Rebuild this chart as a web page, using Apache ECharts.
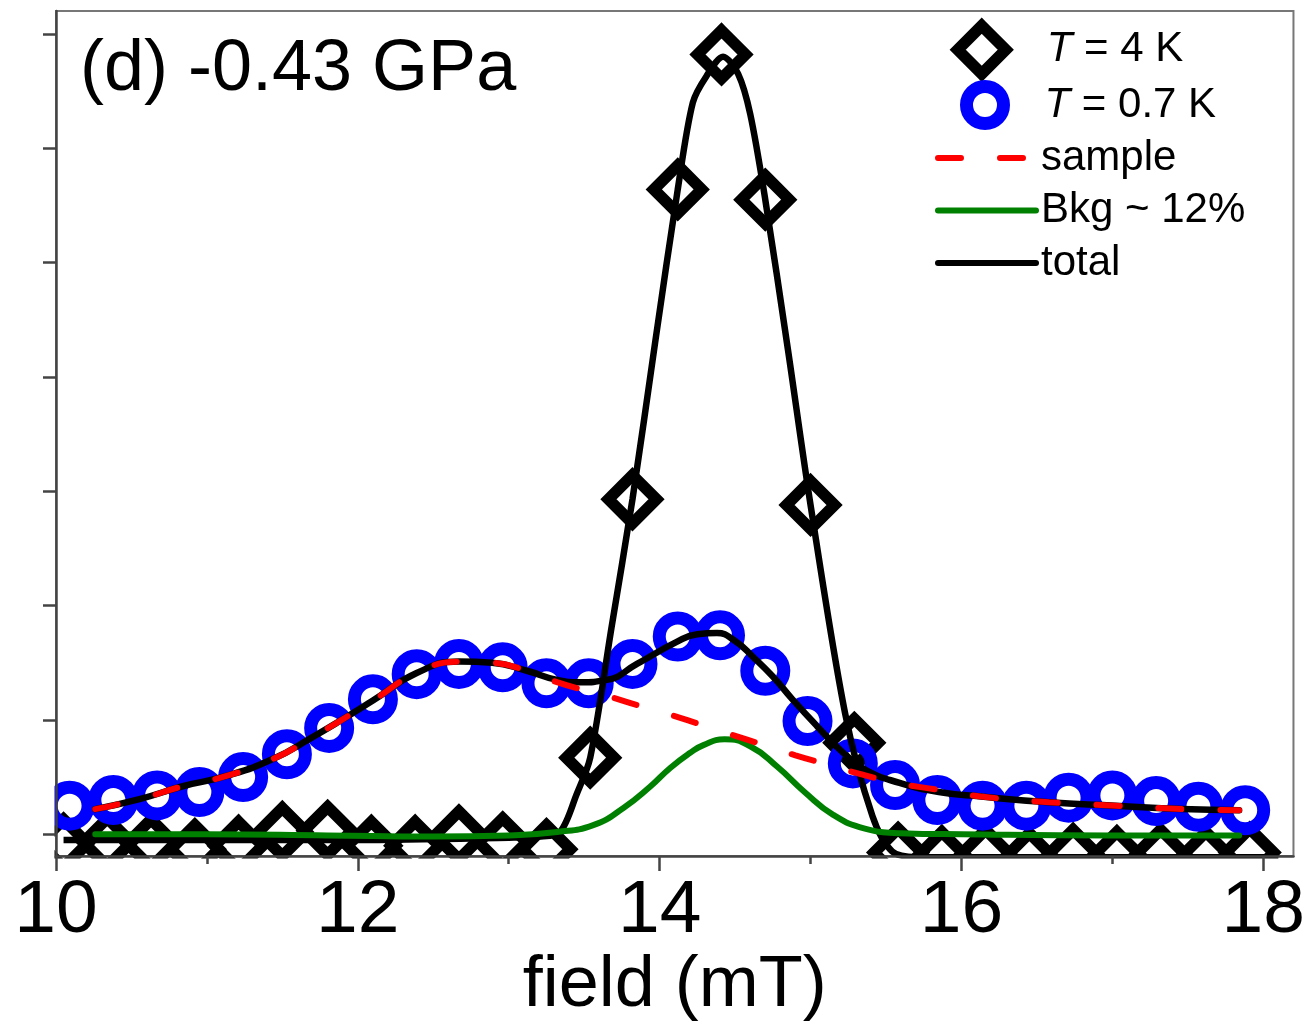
<!DOCTYPE html>
<html><head><meta charset="utf-8">
<script src="https://cdn.jsdelivr.net/npm/echarts@6/dist/echarts.min.js"></script>
<style>html,body{margin:0;padding:0;background:#fff}#c{width:1308px;height:1027px}</style>
</head><body><div id="c"></div>
<script>
const FONT = "'Liberation Sans', Arial, sans-serif";

// axis ticks
const xTickLabels = [10, 12, 14, 16, 18];
const xMinorTicks = [11, 13, 15, 17];
const yTicks = [0, 1, 2, 3, 4, 5, 6, 7];

// T = 4 K data (diamonds)
const field4K = [10.05,10.34,10.63,10.92,11.21,11.50,11.80,12.09,12.38,12.67,12.96,13.25,13.54,13.82,14.12,14.41,14.70,15.00,15.29,15.58,15.87,16.16,16.45,16.74,17.03,17.32,17.62,17.91];
const signal4K = [-0.08,-0.07,-0.08,-0.13,-0.10,0.02,0.03,-0.10,-0.10,-0.01,-0.07,-0.13,0.67,2.93,5.64,6.82,5.55,2.88,0.80,-0.16,-0.19,-0.17,-0.20,-0.17,-0.19,-0.17,-0.19,-0.16];

// T = 0.7 K data (circles)
const field07K = [10.09,10.38,10.67,10.95,11.24,11.53,11.81,12.10,12.39,12.67,12.96,13.25,13.53,13.82,14.12,14.40,14.70,14.98,15.28,15.56,15.84,16.14,16.43,16.71,17.00,17.29,17.57,17.88];
const signal07K = [0.25,0.30,0.34,0.37,0.50,0.70,0.93,1.18,1.40,1.49,1.46,1.32,1.32,1.49,1.73,1.74,1.43,0.99,0.62,0.43,0.30,0.25,0.25,0.32,0.34,0.29,0.24,0.21];

// fit through 4 K data
const fitField4K = [10.05,11.0,12.0,13.0,13.20,13.34,13.45,13.54,13.68,13.82,13.97,14.12,14.22,14.31,14.42,14.52,14.60,14.70,14.85,15.00,15.23,15.41,15.54,15.70,16.5,18.1];
const fitValues4K = [-0.05,-0.05,-0.05,-0.03,-0.02,0.02,0.35,0.67,1.80,2.93,4.30,5.64,6.40,6.63,6.80,6.65,6.30,5.55,4.24,2.88,1.05,0.16,-0.15,-0.20,-0.20,-0.20];

// total fit (0.7 K)
const totalField = [10.26,10.56,10.84,11.13,11.44,11.70,11.88,12.10,12.39,12.67,12.89,13.12,13.32,13.47,13.65,13.85,14.11,14.25,14.38,14.50,14.62,14.75,14.88,15.04,15.21,15.37,15.59,15.85,16.13,16.58,17.02,17.46,17.84];
const totalValues = [0.22,0.31,0.42,0.51,0.66,0.85,0.99,1.17,1.41,1.51,1.50,1.43,1.35,1.33,1.35,1.49,1.68,1.75,1.76,1.69,1.55,1.38,1.18,0.95,0.72,0.56,0.45,0.37,0.33,0.28,0.25,0.22,0.21];

// sample component
const sampleField = [10.26,10.56,10.84,11.13,11.44,11.70,11.88,12.10,12.39,12.67,12.89,13.12,13.32,13.50,13.65,13.85,14.06,14.27,14.48,14.69,14.90,15.11,15.32,15.53,15.74,15.95,16.13,16.58,17.02,17.46,17.84];
const sampleValues = [0.22,0.31,0.42,0.51,0.66,0.85,0.99,1.17,1.41,1.51,1.50,1.43,1.33,1.26,1.21,1.13,1.05,0.96,0.87,0.78,0.69,0.61,0.53,0.46,0.41,0.37,0.33,0.28,0.25,0.22,0.21];

// background component
const bkgField = [10.26,11.0,11.8,12.5,13.0,13.32,13.56,13.76,13.94,14.07,14.20,14.29,14.43,14.60,14.78,14.96,15.15,15.36,15.60,16.0,17.0,17.84];
const bkgValues = [0.0,0.0,-0.01,-0.02,-0.01,0.02,0.08,0.23,0.42,0.58,0.71,0.78,0.83,0.77,0.59,0.37,0.17,0.05,0.01,0.0,-0.01,-0.01];

const zip = (xs, ys) => xs.map((x, i) => [x, ys[i]]);

const chart = echarts.init(document.getElementById('c'), null, { renderer: 'canvas' });
const legendText = {
  fontSize: 42, fontFamily: FONT, color: '#000',
  rich: {
    i: { fontSize: 42, fontFamily: FONT, fontStyle: 'italic', color: '#000' },
    n: { fontSize: 42, fontFamily: FONT, color: '#000' }
  }
};
const italicT = name => name.startsWith('T') ? '{i|T}{n|' + name.slice(1) + '}' : name;

chart.setOption({
  animation: false,
  backgroundColor: '#fff',
  title: {
    text: '(d) -0.43 GPa', left: 80, top: 34, padding: 0,
    textStyle: { fontSize: 72, fontWeight: 'normal', color: '#000', fontFamily: FONT }
  },
  grid: {
    left: 56, right: 13, top: 11, bottom: 170,
    show: true, borderColor: '#777', borderWidth: 2, backgroundColor: 'transparent'
  },
  xAxis: [{
    type: 'value', min: 10, max: 18.2, z: 10,
    name: 'field (mT)', nameLocation: 'middle', nameGap: 94, nameMoveOverlap: false,
    nameTextStyle: { fontSize: 72, fontFamily: FONT, color: '#000' },
    axisLine: { onZero: false, lineStyle: { color: '#444', width: 2.5 } },
    axisTick: { show: true, inside: false, length: 15, customValues: xTickLabels, lineStyle: { color: '#444', width: 2.5 } },
    axisLabel: { customValues: xTickLabels, fontSize: 75, fontFamily: FONT, color: '#000', margin: 18 },
    splitLine: { show: false }
  }, {
    type: 'value', min: 10, max: 18.2, z: 10, position: 'bottom',
    axisLine: { show: false, onZero: false },
    axisTick: { show: true, inside: false, length: 8, customValues: xMinorTicks, lineStyle: { color: '#444', width: 2.5 } },
    axisLabel: { show: false },
    splitLine: { show: false }
  }],
  yAxis: {
    type: 'value', min: -0.19, max: 7.2, z: 10,
    axisLine: { show: true, onZero: false, lineStyle: { color: '#444', width: 2.5 } },
    axisTick: { show: true, inside: false, length: 13, customValues: yTicks, lineStyle: { color: '#444', width: 2.5 } },
    axisLabel: { show: false },
    splitLine: { show: false }
  },
  legend: [{
    data: ['T = 4 K'], left: 952, top: 20, orient: 'vertical', padding: 0,
    itemWidth: 48, itemHeight: 48, selectedMode: false,
    itemStyle: { color: 'rgba(0,0,0,0)', borderColor: '#000', borderWidth: 11.5, opacity: 1 },
    formatter: italicT,
    textStyle: Object.assign({ padding: [0, 0, 0, 36] }, legendText)
  }, {
    data: ['T = 0.7 K'], left: 960, top: 80, orient: 'vertical', padding: 0,
    itemWidth: 37, itemHeight: 37, selectedMode: false,
    itemStyle: { color: 'rgba(0,0,0,0)', borderColor: '#0000ff', borderWidth: 13, opacity: 1 },
    formatter: italicT,
    textStyle: Object.assign({ padding: [0, 0, 0, 36] }, legendText)
  }, {
    data: ['sample', 'Bkg ~ 12%', 'total'], left: 935, top: 137, orient: 'vertical', padding: 0,
    itemWidth: 98, itemHeight: 14, itemGap: 10.5, selectedMode: false,
    lineStyle: { width: 6, cap: 'round' },
    itemStyle: { color: 'rgba(0,0,0,0)', borderWidth: 0, opacity: 0 },
    textStyle: { fontSize: 42, fontFamily: FONT, color: '#000' }
  }],
  graphic: [
    { type: 'rect', z: 5, silent: true, shape: { x: 0, y: 0, width: 54.5, height: 1027 }, style: { fill: '#fff' } },
    { type: 'rect', z: 5, silent: true, shape: { x: 0, y: 858.5, width: 1308, height: 170 }, style: { fill: '#fff' } }
  ],
  series: [{
    name: 'T = 4 K', type: 'scatter', data: zip(field4K, signal4K), clip: false,
    symbol: 'diamond', symbolSize: 48,
    itemStyle: { color: 'rgba(0,0,0,0)', borderColor: '#000', borderWidth: 11.5, opacity: 1 }
  }, {
    name: 'T = 0.7 K', type: 'scatter', data: zip(field07K, signal07K), clip: false,
    symbol: 'circle', symbolSize: 37,
    itemStyle: { color: 'rgba(0,0,0,0)', borderColor: '#0000ff', borderWidth: 13, opacity: 1 }
  }, {
    name: 'fit 4 K', type: 'line', data: zip(fitField4K, fitValues4K),
    symbol: 'none', smooth: 0.3,
    lineStyle: { color: '#000', width: 6.5 }, itemStyle: { color: '#000' }
  }, {
    name: 'total', type: 'line', data: zip(totalField, totalValues),
    symbol: 'none', smooth: 0.5,
    lineStyle: { color: '#000', width: 6.5, cap: 'round' }, itemStyle: { color: '#000' }
  }, {
    name: 'Bkg ~ 12%', type: 'line', data: zip(bkgField, bkgValues),
    symbol: 'none', smooth: 0.5,
    lineStyle: { color: '#008000', width: 6, cap: 'round' }, itemStyle: { color: '#008000' }
  }, {
    name: 'sample', type: 'line', data: zip(sampleField, sampleValues),
    symbol: 'none', smooth: 0.5,
    lineStyle: { color: '#ff0000', width: 6, type: [23, 39], cap: 'round' }, itemStyle: { color: '#ff0000' }
  }]
});
</script>
</body></html>
